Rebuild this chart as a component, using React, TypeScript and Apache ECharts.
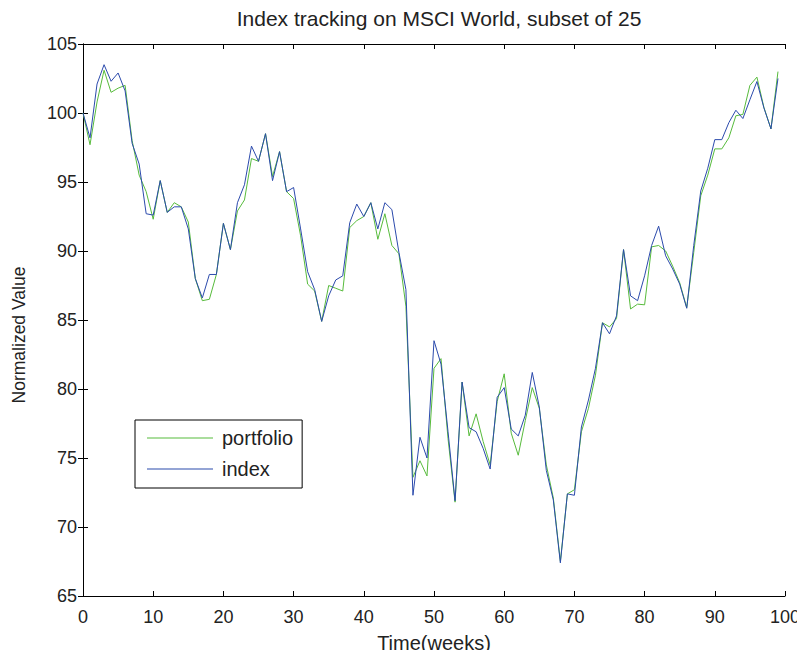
import React, { useEffect, useRef } from "react";
import * as echarts from "echarts";

const title = "Index tracking on MSCI World, subset of 25";
const xName = "Time(weeks)";
const yName = "Normalized Value";
const seriesNames = ["portfolio", "index"];

const portfolio = [
  100.0, 97.7, 100.8, 103.1, 101.5, 101.8, 102.0, 98.0, 95.5, 94.3,
  92.3, 95.1, 92.8, 93.5, 93.2, 92.1, 88.0, 86.4, 86.5, 88.3,
  92.0, 90.1, 92.9, 93.7, 96.7, 96.5, 98.5, 95.4, 97.2, 94.3,
  93.8, 91.1, 87.6, 87.1, 84.9, 87.5, 87.3, 87.1, 91.7, 92.2,
  92.5, 93.5, 90.85, 92.7, 90.4, 89.8, 86.0, 73.6, 74.8, 73.7,
  81.5, 82.2, 76.4, 71.8, 80.5, 76.6, 78.2, 76.2, 74.5, 79.1,
  81.1, 76.8, 75.2, 77.7, 80.1, 78.6, 74.5, 72.1, 67.5, 72.4,
  72.7, 76.9, 78.6, 81.0, 84.8, 84.5, 85.1, 90.1, 85.8, 86.15,
  86.1, 90.3, 90.4, 90.0, 88.9, 87.7, 85.9, 89.9, 94.0, 95.5,
  97.4, 97.4, 98.2, 99.8, 99.9, 102.0, 102.6, 100.4, 98.85, 103.0,
];

const index = [
  100.0, 98.2, 102.1, 103.5, 102.3, 102.9, 101.6, 97.8, 96.3, 92.7,
  92.6, 95.1, 92.8, 93.2, 93.2, 91.6, 88.0, 86.6, 88.3, 88.3,
  92.0, 90.1, 93.5, 94.8, 97.6, 96.5, 98.5, 95.1, 97.2, 94.3,
  94.6, 91.6, 88.5, 87.2, 84.9, 86.75, 87.9, 88.2, 92.05, 93.4,
  92.5, 93.5, 91.6, 93.5, 93.0, 89.9, 87.2, 72.3, 76.5, 75.0,
  83.5, 81.8, 76.9, 71.9, 80.5, 77.2, 76.9, 75.7, 74.2, 79.4,
  80.1, 77.1, 76.6, 78.1, 81.2, 78.7, 74.1, 71.95, 67.4, 72.4,
  72.3, 77.25, 79.2, 81.5, 84.8, 84.0, 85.3, 90.1, 86.75, 86.4,
  88.2, 90.4, 91.8, 89.65, 88.7, 87.6, 85.85, 90.4, 94.35, 96.0,
  98.07, 98.07, 99.3, 100.2, 99.6, 100.96, 102.28, 100.36, 98.85, 102.5,
];

const weeks = portfolio.map((_, i) => i);

const FONT = "Liberation Sans";
const GREEN = "#57bb3c";
const BLUE = "#2b4aac";

export default function App() {
  const ref = useRef<HTMLDivElement>(null);
  useEffect(() => {
    if (!ref.current) return;
    const chart = echarts.init(ref.current, null, { renderer: "svg" });
    const axisLine = { show: true, lineStyle: { color: "#000", width: 1 } };
    const tickInside = { show: true, inside: true, length: 5, lineStyle: { color: "#000" } };
    const labelStyle = { color: "#222", fontFamily: FONT, fontSize: 18 };
    chart.setOption({
      animation: false,
      backgroundColor: "#fff",
      title: {
        text: title,
        left: 434,
        textAlign: "center",
        top: 3,
        textStyle: { fontFamily: FONT, fontSize: 21, fontWeight: "normal", color: "#222" },
      },
      grid: { left: 83, right: 20, top: 44, bottom: 60, show: false },
      legend: {
        data: seriesNames.map((n) => ({ name: n, icon: "rect" })),
        left: 135,
        top: 420,
        orient: "vertical",
        borderColor: "#000",
        borderWidth: 1,
        padding: [8, 9, 9, 12],
        itemWidth: 66,
        itemHeight: 1,
        itemGap: 11,
        textStyle: { fontFamily: FONT, fontSize: 20, color: "#222", padding: [0, 0, 0, 4] },
      },
      graphic: [
        {
          type: "text",
          x: 19,
          y: 335,
          rotation: Math.PI / 2,
          style: {
            text: yName,
            fontFamily: FONT,
            fontSize: 17.5,
            fill: "#222",
            align: "center",
            verticalAlign: "middle",
          },
        },
      ],
      xAxis: [
        {
          type: "value",
          min: 0,
          max: 100,
          interval: 10,
          position: "bottom",
          name: xName,
          nameLocation: "middle",
          nameGap: 37,
          nameTextStyle: { fontFamily: FONT, fontSize: 20, color: "#222" },
          axisLine,
          axisTick: tickInside,
          axisLabel: { ...labelStyle, margin: 12 },
          splitLine: { show: false },
        },
        {
          type: "value",
          min: 0,
          max: 100,
          interval: 10,
          position: "top",
          axisLine,
          axisTick: tickInside,
          axisLabel: { show: false },
          splitLine: { show: false },
        },
      ],
      yAxis: [
        {
          type: "value",
          min: 65,
          max: 105,
          interval: 5,
          position: "left",
          axisLine,
          axisTick: tickInside,
          axisLabel: { ...labelStyle, margin: 6 },
          splitLine: { show: false },
        },
        {
          type: "value",
          min: 65,
          max: 105,
          interval: 5,
          position: "right",
          axisLine,
          axisTick: tickInside,
          axisLabel: { show: false },
          splitLine: { show: false },
        },
      ],
      series: [
        {
          name: seriesNames[0],
          type: "line",
          data: weeks.map((w, i) => [w, portfolio[i]]),
          symbol: "none",
          lineStyle: { color: GREEN, width: 1 },
          itemStyle: { color: GREEN },
          z: 2,
        },
        {
          name: seriesNames[1],
          type: "line",
          data: weeks.map((w, i) => [w, index[i]]),
          symbol: "none",
          lineStyle: { color: BLUE, width: 1 },
          itemStyle: { color: BLUE },
          z: 3,
        },
      ],
    });
    return () => chart.dispose();
  }, []);
  return <div ref={ref} style={{ width: 805, height: 658, margin: -8 }} />;
}
